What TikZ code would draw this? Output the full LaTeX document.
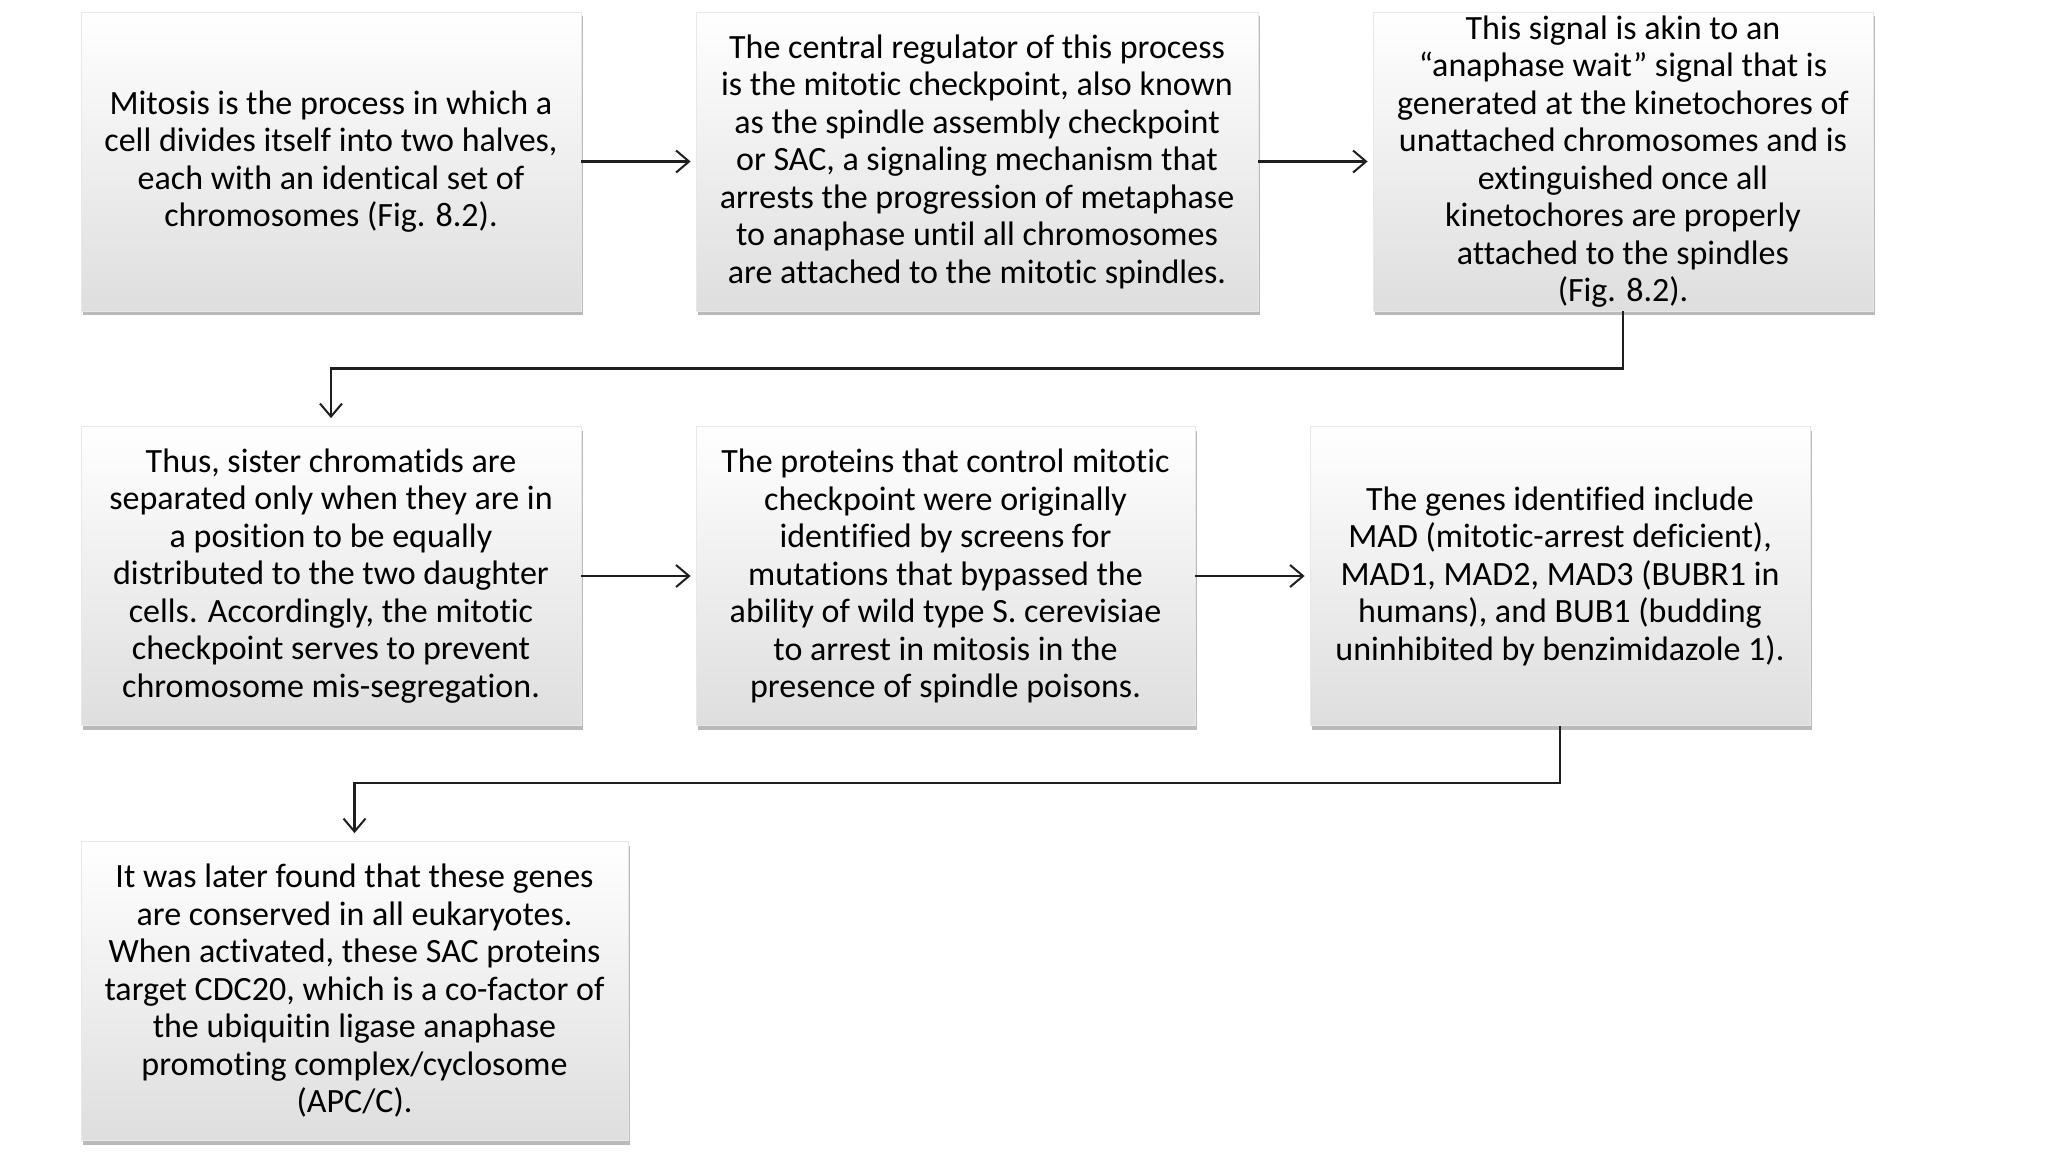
\documentclass[tikz,border=0pt]{standalone}
\usepackage{fontspec}
\setmainfont{Carlito}[Ligatures=NoCommon]
\usetikzlibrary{arrows.meta,shadows,positioning}
\begin{document}
\begin{tikzpicture}[x=1pt,y=-1pt,
  box/.style={rectangle, inner sep=0pt, align=center,
    top color=white, bottom color={rgb,255:red,222;green,222;blue,222},
    draw={rgb,255:red,232;green,232;blue,232}, line width=0.8pt,
    minimum height=299pt,
    font=\fontsize{34}{37.5}\selectfont,
    drop shadow={shadow xshift=1.5pt, shadow yshift=-4pt, opacity=0.45, fill=black!60}},
  conn/.style={line width=2.2pt, draw={rgb,255:red,30;green,30;blue,30},
    -{Straight Barb[length=13pt,width=22pt,line width=2pt]}}]
\useasboundingbox (0,0) rectangle (2048,1152);
\fill[white] (0,0) rectangle (2048,1152);

\node[box, minimum width=500pt] (b1) at (331,161.5) {Mitosis is the process in which a\\cell divides itself into two halves,\\each with an identical set of\\chromosomes (Fig. 8.2).};
\node[box, minimum width=562pt] (b2) at (977,161.5) {The central regulator of this process\\is the mitotic checkpoint, also known\\as the spindle assembly checkpoint\\or SAC, a signaling mechanism that\\arrests the progression of metaphase\\to anaphase until all chromosomes\\are attached to the mitotic spindles.};
\node[box, minimum width=500pt] (b3) at (1623,161.5) {This signal is akin to an\\“anaphase wait” signal that is\\generated at the kinetochores of\\unattached chromosomes and is\\extinguished once all\\kinetochores are properly\\attached to the spindles\\(Fig. 8.2).};

\node[box, minimum width=500pt] (b4) at (331,576) {Thus, sister chromatids are\\separated only when they are in\\a position to be equally\\distributed to the two daughter\\cells. Accordingly, the mitotic\\checkpoint serves to prevent\\chromosome mis-segregation.};
\node[box, minimum width=499pt] (b5) at (945.5,576) {The proteins that control mitotic\\checkpoint were originally\\identified by screens for\\mutations that bypassed the\\ability of wild type S. cerevisiae\\to arrest in mitosis in the\\presence of spindle poisons.};
\node[box, minimum width=500pt] (b6) at (1560,576) {The genes identified include\\MAD (mitotic-arrest deficient),\\MAD1, MAD2, MAD3 (BUBR1 in\\humans), and BUB1 (budding\\uninhibited by benzimidazole 1).};

\node[box, minimum width=547pt] (b7) at (354.5,991) {It was later found that these genes\\are conserved in all eukaryotes.\\When activated, these SAC proteins\\target CDC20, which is a co-factor of\\the ubiquitin ligase anaphase\\promoting complex/cyclosome\\(APC/C).};

\draw[conn, shorten >=5pt] (b1.east) -- (b2.west);
\draw[conn, shorten >=5pt] (b2.east) -- (b3.west);
\draw[conn, shorten >=5pt] (b4.east) -- (b5.west);
\draw[conn, shorten >=5pt] (b5.east) -- (b6.west);
\draw[conn, shorten >=8pt] (b3.south) -- ++(0,57) -| (b4.north);
\draw[conn, shorten >=8pt] (b6.south) -- ++(0,57) -| (b7.north);
\end{tikzpicture}
\end{document}
